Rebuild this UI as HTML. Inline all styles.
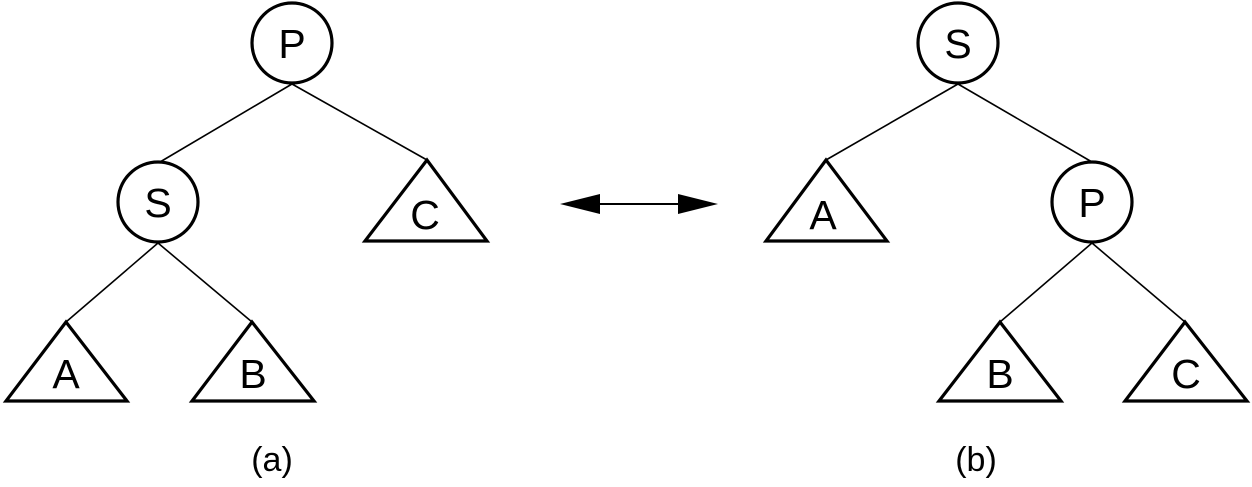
<!DOCTYPE html>
<html><head><meta charset="utf-8"><style>
html,body{margin:0;padding:0;background:#fff;}
svg{display:block;}
text{font-family:"Liberation Sans",sans-serif;fill:#000;}
</style></head><body>
<svg width="1252" height="487" viewBox="0 0 1252 487">
<g stroke="#000" stroke-width="1.6" fill="none">
<line x1="292" y1="84" x2="160" y2="162"/>
<line x1="292" y1="84" x2="427" y2="160"/>
<line x1="158" y1="243" x2="66" y2="322"/>
<line x1="158" y1="243" x2="252" y2="322"/>
<line x1="958" y1="84" x2="826" y2="160"/>
<line x1="958" y1="84" x2="1092" y2="162"/>
<line x1="1092" y1="243" x2="1000" y2="322"/>
<line x1="1092" y1="243" x2="1185" y2="322"/>
</g>
<g stroke="#000" stroke-width="3.2" fill="#fff">
<circle cx="292" cy="43" r="40"/>
<circle cx="158" cy="202" r="40"/>
<circle cx="958" cy="43" r="40"/>
<circle cx="1092" cy="202" r="40"/>
<polygon points="427,160 365,241 487,241"/>
<polygon points="66,322 6,401 127,401"/>
<polygon points="252,322 192,401 314,401"/>
<polygon points="826,160 766,241 887,241"/>
<polygon points="1000,322 939,401 1061,401"/>
<polygon points="1185,322 1125,401 1247,401"/>
</g>
<g font-size="41" text-anchor="middle">
<text x="292" y="58">P</text>
<text x="158" y="217">S</text>
<text x="425" y="229">C</text>
<text x="66" y="388">A</text>
<text x="253" y="388">B</text>
<text x="958" y="58">S</text>
<text x="1092" y="217">P</text>
<text x="823" y="229">A</text>
<text x="1000" y="388">B</text>
<text x="1186" y="388">C</text>
</g>
<g font-size="34" text-anchor="middle">
<text x="272" y="471">(a)</text>
<text x="976" y="471">(b)</text>
</g>
<g>
<line x1="580" y1="204" x2="700" y2="204" stroke="#000" stroke-width="2"/>
<polygon points="560,204 600,194 600,214" fill="#000"/>
<polygon points="718,204 678,194 678,214" fill="#000"/>
</g>
</svg>
</body></html>
